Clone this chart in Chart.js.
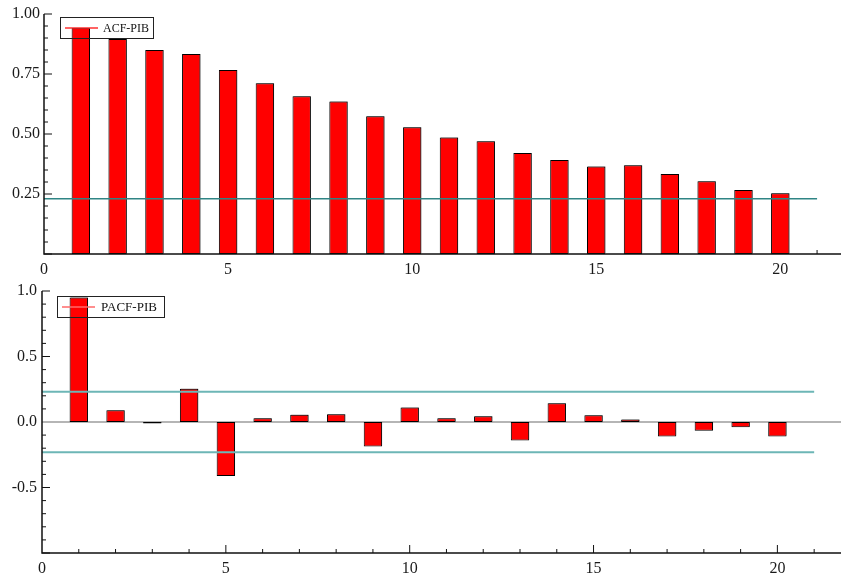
<!DOCTYPE html>
<html>
<head>
<meta charset="utf-8">
<title>ACF / PACF - PIB</title>
<script src="https://cdn.jsdelivr.net/npm/chart.js@4/dist/chart.umd.min.js"></script>
<style>
  html, body { margin: 0; padding: 0; background: #ffffff; }
  #wrap { position: relative; width: 841px; height: 580px; }
  #wrap canvas { position: absolute; left: 0; top: 0; }
</style>
</head>
<body>
<div id="wrap">
  <canvas id="acfChart" width="841" height="580"></canvas>
  <canvas id="pacfChart" width="841" height="580"></canvas>
</div>
<script>
// Lags and correlogram values
const lags = [1, 2, 3, 4, 5, 6, 7, 8, 9, 10, 11, 12, 13, 14, 15, 16, 17, 18, 19, 20];
const acfPib = [0.942, 0.896, 0.850, 0.833, 0.767, 0.711, 0.657, 0.635, 0.574, 0.528,
                0.485, 0.470, 0.421, 0.392, 0.365, 0.370, 0.333, 0.303, 0.267, 0.253];
const pacfPib = [0.951, 0.090, -0.012, 0.254, -0.413, 0.028, 0.056, 0.059, -0.187, 0.110,
                 0.028, 0.044, -0.141, 0.144, 0.052, 0.020, -0.110, -0.067, -0.041, -0.110];
// Significance band (±2/sqrt(T)) and axis ranges
const band = 0.23;
const bandEndLag = 21;
const acfRange = [0, 1];
const pacfRange = [-1, 1];
const acfLagMax = 21.65;
const pacfLagMax = 21.73;
const xLabelTicks = [0, 5, 10, 15, 20];

const serif = '"Liberation Serif", "Times New Roman", Times, serif';
Chart.defaults.font.family = serif;
Chart.defaults.font.size = 16;
Chart.defaults.color = '#1a1a1a';

// Inward tick marks (under the bars), axis lines and a boxed legend
const framePlugin = {
  id: 'frame',
  beforeDatasetsDraw(chart, args, o) {
    const { ctx, chartArea: a, scales: { x, y } } = chart;
    ctx.save();
    ctx.strokeStyle = '#111';
    ctx.lineWidth = 1;
    ctx.beginPath();
    const n = Math.round((y.max - y.min) / o.yMinor);
    for (let i = 0; i <= n; i++) {
      const v = y.min + i * o.yMinor;
      const major = Math.abs(v / o.yMajor - Math.round(v / o.yMajor)) < 1e-6;
      const py = y.getPixelForValue(v);
      ctx.moveTo(a.left, py);
      ctx.lineTo(a.left + (major ? 8 : 4), py);
    }
    for (let v = 1; v <= Math.floor(x.max); v++) {
      const px = x.getPixelForValue(v);
      ctx.moveTo(px, a.bottom);
      ctx.lineTo(px, a.bottom - (v % 5 === 0 ? 8 : 4));
    }
    ctx.stroke();
    ctx.restore();
  },
  beforeDatasetDraw(chart, args) {
    if (chart.data.datasets[args.index].type === 'bar') {
      const ctx = chart.ctx;
      ctx.save();
      ctx.shadowColor = 'rgba(0,0,0,0.4)';
      ctx.shadowOffsetX = 1;
      ctx.shadowOffsetY = -1;
      ctx.shadowBlur = 0;
    }
  },
  afterDatasetDraw(chart, args) {
    if (chart.data.datasets[args.index].type === 'bar') chart.ctx.restore();
  },
  afterDraw(chart, args, o) {
    const { ctx, chartArea: a } = chart;
    ctx.save();
    ctx.strokeStyle = '#111';
    ctx.lineWidth = 1.5;
    ctx.beginPath();
    ctx.moveTo(a.left, a.top);
    ctx.lineTo(a.left, a.bottom);
    ctx.lineTo(a.right, a.bottom);
    ctx.stroke();

    // legend
    const L = o.legend;
    const ds = chart.data.datasets.find(d => d.type === 'bar');
    ctx.strokeStyle = '#222';
    ctx.lineWidth = 1;
    ctx.strokeRect(L.x + 0.5, L.y + 0.5, L.w, L.h);
    ctx.strokeStyle = L.lineColor;
    ctx.lineWidth = 1.5;
    const my = L.y + L.h / 2 + 0.5;
    ctx.beginPath();
    ctx.moveTo(L.x + 5, my);
    ctx.lineTo(L.x + 38, my);
    ctx.stroke();
    ctx.fillStyle = '#111';
    ctx.font = L.fontSize + 'px ' + serif;
    ctx.textBaseline = 'middle';
    ctx.textAlign = 'left';
    ctx.fillText(ds.label, L.x + L.textOffset, my + 0.5);
    ctx.restore();
  }
};

function barSet(label, values) {
  return {
    type: 'bar',
    label: label,
    data: lags.map((l, i) => ({ x: l, y: values[i] })),
    backgroundColor: '#ff0000',
    borderColor: '#000000',
    borderWidth: 1,
    borderSkipped: false,
    barPercentage: 0.5,
    categoryPercentage: 1,
    order: 2
  };
}

function hLine(yv, x0, x1, color, width, order) {
  return {
    type: 'line',
    label: '',
    data: [{ x: x0, y: yv }, { x: x1, y: yv }],
    borderColor: color,
    borderWidth: width,
    pointRadius: 0,
    fill: false,
    order: order
  };
}

function makeOptions(cfg) {
  return {
    responsive: false,
    animation: false,
    devicePixelRatio: 1,
    layout: { padding: { top: cfg.top, left: 0, right: 0, bottom: 0 } },
    plugins: {
      legend: { display: false },
      tooltip: { enabled: false },
      frame: cfg.frame
    },
    scales: {
      x: {
        type: 'linear',
        min: 0,
        max: cfg.xMax,
        offset: false,
        grid: { display: false, drawTicks: false },
        border: { display: false },
        afterBuildTicks: s => { s.ticks = xLabelTicks.map(v => ({ value: v })); },
        ticks: { padding: 6, maxRotation: 0, callback: v => String(v) },
        afterFit: s => { s.height = cfg.xHeight; }
      },
      y: {
        min: cfg.yRange[0],
        max: cfg.yRange[1],
        grid: { display: false, drawTicks: false },
        border: { display: false },
        ticks: {
          stepSize: cfg.yStep,
          padding: cfg.yPad,
          callback: cfg.yFmt
        },
        afterFit: s => { s.width = cfg.yWidth; }
      }
    }
  };
}

new Chart(document.getElementById('acfChart'), {
  type: 'bar',
  data: {
    datasets: [
      hLine(band, 0, bandEndLag, '#2f8585', 1.5, 1),
      barSet('ACF-PIB', acfPib)
    ]
  },
  options: makeOptions({
    top: 14, xHeight: 326, yWidth: 44, yPad: 4, xMax: acfLagMax,
    yRange: acfRange, yStep: 0.25,
    yFmt: v => (Math.abs(v) < 1e-9 ? '' : v.toFixed(2)),
    frame: { yMinor: 0.05, yMajor: 0.25,
             legend: { x: 60, y: 17, w: 93, h: 21, lineColor: '#ff3030', fontSize: 12, textOffset: 43 } }
  }),
  plugins: [framePlugin]
});

new Chart(document.getElementById('pacfChart'), {
  type: 'bar',
  data: {
    datasets: [
      hLine(band, 0, bandEndLag, '#6db6b6', 2, 1),
      hLine(-band, 0, bandEndLag, '#6db6b6', 2, 1),
      barSet('PACF-PIB', pacfPib),
      hLine(0, 0, pacfLagMax, '#b5b5b5', 2, 3)
    ]
  },
  options: makeOptions({
    top: 291, xHeight: 27, yWidth: 42, yPad: 5, xMax: pacfLagMax,
    yRange: pacfRange, yStep: 0.5,
    yFmt: v => (Math.abs(v + 1) < 1e-9 ? '' : v.toFixed(1)),
    frame: { yMinor: 0.1, yMajor: 0.5,
             legend: { x: 57, y: 296, w: 107, h: 21, lineColor: '#ff6a6a', fontSize: 13, textOffset: 44 } }
  }),
  plugins: [framePlugin]
});
</script>
</body>
</html>
